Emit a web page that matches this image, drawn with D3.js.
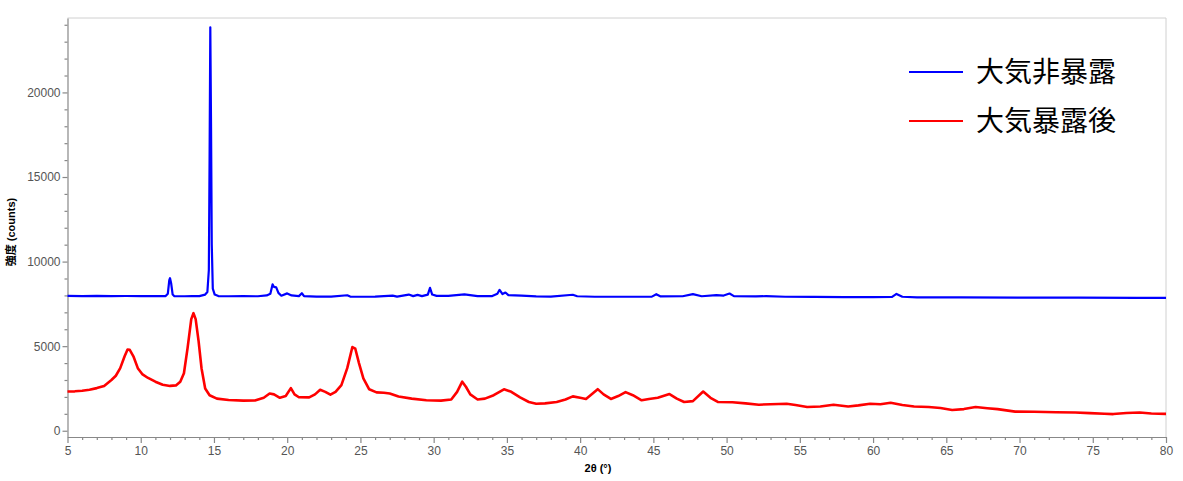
<!DOCTYPE html>
<html>
<head>
<meta charset="utf-8">
<script src="https://cdn.jsdelivr.net/npm/d3@7"></script>
<style>
  body { margin: 0; background: #fff; }
  svg { display: block; }
</style>
</head>
<body>
<div id="chart"></div>
<script>
// 2θ (deg) / counts
const unexposed = [
  [5,7970],[6,7960],[7,7975],[8,7960],[9,7965],[10,7960],[11,7955],[11.7,7960],[11.85,8100],[11.95,8900],
  [12.0,9020],[12.08,8700],[12.18,8050],[12.3,7950],[13,7950],[13.5,7960],[14,7960],[14.4,8050],[14.55,8200],
  [14.65,9500],[14.7,16000],[14.75,23850],[14.8,18000],[14.85,11000],[14.92,8400],[15.05,8050],[15.3,7960],
  [16,7950],[17,7955],[18,7950],[18.6,8000],[18.85,8100],[19.0,8650],[19.1,8500],[19.25,8480],[19.4,8150],
  [19.6,7980],[20.0,8120],[20.3,8000],[20.8,7960],[21.0,8130],[21.15,7960],[22,7930],[23,7930],[24.1,8010],
  [24.3,7930],[25,7920],[26,7930],[27.2,7990],[27.5,7930],[28.3,8050],[28.6,7960],[28.9,8030],[29.2,7960],
  [29.6,8050],[29.75,8450],[29.9,8050],[30.2,7970],[31,7970],[32.1,8060],[33,7960],[34,7960],[34.35,8100],
  [34.5,8330],[34.7,8080],[34.9,8170],[35.1,8020],[36,7990],[37,7940],[38,7930],[39.5,8040],[39.8,7950],
  [41,7920],[43,7920],[44.9,7930],[45.2,8070],[45.5,7940],[47,7950],[47.7,8080],[48.3,7950],[49.3,8020],
  [49.8,7990],[50.2,8110],[50.5,7960],[52,7940],[52.7,7960],[54,7920],[56,7910],[58,7900],[60,7900],
  [61.3,7910],[61.6,8090],[62,7920],[63,7890],[66,7880],[70,7870],[74,7870],[78,7860],[80,7850]
];
const exposed = [
  [5,2320],[5.5,2330],[6,2360],[6.5,2420],[7,2520],[7.5,2650],[8,3000],[8.3,3250],[8.6,3700],[8.9,4400],
  [9.1,4800],[9.25,4780],[9.5,4400],[9.8,3700],[10.1,3350],[10.5,3120],[11,2900],[11.5,2720],[12,2650],
  [12.4,2680],[12.7,2900],[12.95,3400],[13.2,4900],[13.45,6600],[13.6,6950],[13.75,6600],[13.95,5300],
  [14.15,3700],[14.4,2500],[14.7,2100],[15.2,1900],[16,1820],[17,1780],[17.8,1790],[18.4,1950],[18.8,2200],
  [19.1,2150],[19.5,1950],[19.9,2050],[20.25,2520],[20.5,2150],[20.8,1980],[21.5,1970],[21.9,2150],
  [22.25,2420],[22.6,2300],[22.95,2130],[23.3,2300],[23.7,2700],[24.1,3700],[24.45,4950],[24.65,4850],
  [24.9,4000],[25.2,3100],[25.6,2450],[26.1,2270],[26.6,2250],[27,2200],[27.6,2020],[28.5,1900],[29.5,1800],
  [30.5,1780],[31.2,1850],[31.6,2300],[31.95,2900],[32.2,2600],[32.5,2150],[33,1850],[33.5,1900],[34.1,2100],
  [34.8,2450],[35.3,2300],[35.9,1970],[36.5,1700],[37,1600],[37.6,1620],[38.4,1700],[39,1850],[39.5,2030],
  [40,1950],[40.4,1880],[41.2,2460],[41.6,2150],[42.1,1880],[42.6,2050],[43.1,2280],[43.6,2100],[44.2,1800],
  [44.7,1880],[45.3,1950],[46.1,2170],[46.6,1900],[47.1,1700],[47.7,1750],[48.4,2320],[48.9,1950],[49.4,1700],
  [50.4,1680],[51.3,1620],[52.2,1540],[53,1570],[54.1,1600],[54.7,1520],[55.5,1400],[56.4,1430],[57.3,1540],
  [58.3,1430],[59,1500],[59.8,1600],[60.5,1570],[61.2,1650],[62,1520],[62.8,1430],[63.8,1400],[64.6,1340],
  [65.4,1230],[66.2,1280],[67.0,1400],[67.8,1330],[68.5,1280],[69.7,1130],[71,1120],[72.5,1090],[73.8,1080],
  [74.8,1040],[75.8,1000],[76.4,985],[77.3,1050],[78.2,1080],[79,1020],[80,1000]
];
const xTicks = [5,10,15,20,25,30,35,40,45,50,55,60,65,70,75,80];
const yTicks = [0,5000,10000,15000,20000];
const seriesNames = ["大気非暴露", "大気暴露後"];
const seriesColors = ["#0000ff", "#ff0000"];

const width = 1183, height = 481;
const plotLeft = 67.5, plotRight = 1166, plotTop = 18, plotBottom = 437;

const svg = d3.select("#chart").append("svg").attr("width", width).attr("height", height);

const x = d3.scaleLinear().domain([5, 80]).range([plotLeft, plotRight]);
const y = d3.scaleLinear().domain([-370, 24400]).range([plotBottom, plotTop]);

// frame (top and right)
svg.append("line").attr("x1", plotLeft).attr("x2", plotRight).attr("y1", plotTop).attr("y2", plotTop)
  .attr("stroke", "#d0d0d0");
svg.append("line").attr("x1", plotRight).attr("x2", plotRight).attr("y1", plotTop).attr("y2", plotBottom)
  .attr("stroke", "#d0d0d0");

// minor ticks
const xMinor = d3.range(5, 81, 1).filter(d => d % 5 !== 0);
const yMinor = d3.range(0, 24001, 1000).filter(d => d % 5000 !== 0);

const gx = svg.append("g").attr("transform", `translate(0,${plotBottom})`);
gx.call(d3.axisBottom(x).tickValues(xMinor).tickSize(3).tickFormat(""));
gx.call(g => g.selectAll(".domain").remove());
const gx2 = svg.append("g").attr("transform", `translate(0,${plotBottom})`)
  .call(d3.axisBottom(x).tickValues(xTicks).tickSize(6).tickSizeOuter(0).tickPadding(3));

const gy = svg.append("g").attr("transform", `translate(${plotLeft},0)`);
gy.call(d3.axisLeft(y).tickValues(yMinor).tickSize(3).tickFormat(""));
gy.call(g => g.selectAll(".domain").remove());
const gy2 = svg.append("g").attr("transform", `translate(${plotLeft},0)`)
  .call(d3.axisLeft(y).tickValues(yTicks).tickSize(5).tickSizeOuter(0).tickPadding(2).tickFormat(d3.format("d")));

svg.selectAll(".domain, .tick line").attr("stroke", "#888").attr("stroke-width", 1.2);
svg.selectAll(".tick text").attr("fill", "#555").style("font-family", "Liberation Sans, Arial, sans-serif")
  .style("font-size", "12px");

// curves
const line = d3.line().x(d => x(d[0])).y(d => y(d[1]));
svg.append("path").datum(exposed).attr("d", line).attr("fill", "none")
  .attr("stroke", seriesColors[1]).attr("stroke-width", 2.6).attr("stroke-linejoin", "round");
svg.append("path").datum(unexposed).attr("d", line).attr("fill", "none")
  .attr("stroke", seriesColors[0]).attr("stroke-width", 2.2).attr("stroke-linejoin", "round");

// axis titles
svg.append("text").attr("x", 598).attr("y", 472).attr("text-anchor", "middle")
  .style("font-family", "Liberation Sans, Arial, sans-serif").style("font-size", "11px")
  .style("font-weight", "bold").text("2θ (°)");
svg.append("text").attr("transform", "translate(15,232) rotate(-90)").attr("text-anchor", "middle")
  .style("font-family", "Liberation Sans, 'Noto Sans CJK JP', sans-serif").style("font-size", "11px")
  .style("font-weight", "bold").text("強度 (counts)");

// legend
const legend = svg.append("g").attr("transform", "translate(909,72)");
seriesNames.forEach((name, i) => {
  legend.append("line").attr("x1", 0).attr("x2", 54).attr("y1", i * 49).attr("y2", i * 49)
    .attr("stroke", seriesColors[i]).attr("stroke-width", 2);
  legend.append("text").attr("x", 67).attr("y", i * 49 + 10)
    .style("font-family", "'Noto Sans CJK JP', sans-serif").style("font-size", "28px")
    .attr("fill", "#000").text(name);
});
</script>
</body>
</html>
